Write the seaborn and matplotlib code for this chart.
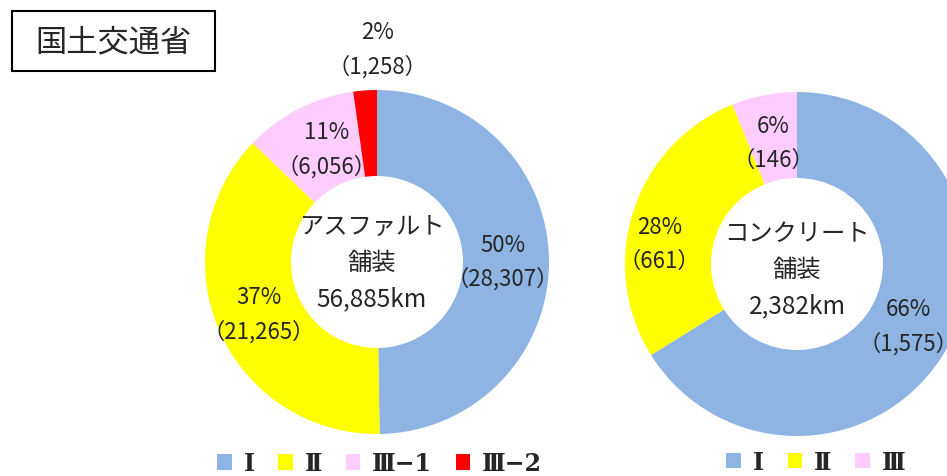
import numpy as np
import matplotlib
matplotlib.use('Agg')
import matplotlib.pyplot as plt
import seaborn as sns
from matplotlib.patches import Rectangle

sns.set_theme(style='white')
plt.rcParams['font.family'] = ['Noto Sans CJK JP', 'DejaVu Sans']

# data
asphalt_labels = ['Ⅰ', 'Ⅱ', 'Ⅲ−1', 'Ⅲ−2']
asphalt_values = [28307, 21265, 6056, 1258]
asphalt_pct = ['50%', '37%', '11%', '2%']
asphalt_total = '56,885km'

concrete_labels = ['Ⅰ', 'Ⅱ', 'Ⅲ']
concrete_values = [1575, 661, 146]
concrete_pct = ['66%', '28%', '6%']
concrete_total = '2,382km'

colors = ['#8EB4E3', '#FFFF00', '#FFCCFF', '#FF0000']

W, H = 947, 477
fig = plt.figure(figsize=(W / 100, H / 100), dpi=100)


def donut(cx, cy, r, values, pcts, labels, title, total, label_pos, center_xy, leg_anchor):
    ax = fig.add_axes([(cx - r) / W, (H - cy - r) / H, 2 * r / W, 2 * r / H])
    wedges, _ = ax.pie(values, colors=colors[:len(values)], startangle=90,
                       counterclock=False, radius=1,
                       wedgeprops=dict(width=0.5, linewidth=0))
    ax.set_xlim(-1, 1)
    ax.set_ylim(-1, 1)
    ax.set_aspect('equal')
    ax.axis('off')

    # labels placed by wedge mid angle (radius, angle tweak)
    total_v = float(sum(values))
    cum = 0
    for v, p, (lr, dth) in zip(values, pcts, label_pos):
        mid = 90 - (cum + v / 2) / total_v * 360 + dth
        cum += v
        x = lr * np.cos(np.radians(mid))
        y = lr * np.sin(np.radians(mid))
        ax.text(x, y, f'{p}\n（{v:,}）', ha='center', va='center', fontsize=16,
                linespacing=1.58, clip_on=False)

    ax.text(center_xy[0], center_xy[1], f'{title}\n舗装\n{total}', ha='center', va='center',
            fontsize=17.5, linespacing=1.52)

    ax.legend(wedges, labels, loc='center left', bbox_to_anchor=leg_anchor, ncol=len(labels),
              frameon=False, borderpad=0, borderaxespad=0,
              prop=dict(family=['DejaVu Serif', 'Noto Sans CJK JP'], weight='bold', size=17),
              handlelength=0.62, handleheight=0.62,
              handletextpad=0.5, columnspacing=1.0)
    return ax


donut(377, 263, 172, asphalt_values, asphalt_pct, asphalt_labels,
      'アスファルト', asphalt_total,
      [(0.73, 0), (0.75, 0), (0.72, -3), (1.24, -4)], (-0.03, 0.0), (0.035, -0.085))
donut(797, 265, 172, concrete_values, concrete_pct, concrete_labels,
      'コンクリート', concrete_total,
      [(0.74, 0), (0.81, 9.4), (0.72, 0)], (0.0, -0.03), (0.295, -0.075))

# title box
fig.patches.append(Rectangle((12 / W, 1 - 72 / H), 203 / W, 60 / H, transform=fig.transFigure,
                             fill=False, edgecolor='black', linewidth=1.5))
fig.text(113 / W, 1 - 42 / H, '国土交通省', ha='center', va='center', fontsize=22.5)

fig.savefig('out.png', dpi=100)
